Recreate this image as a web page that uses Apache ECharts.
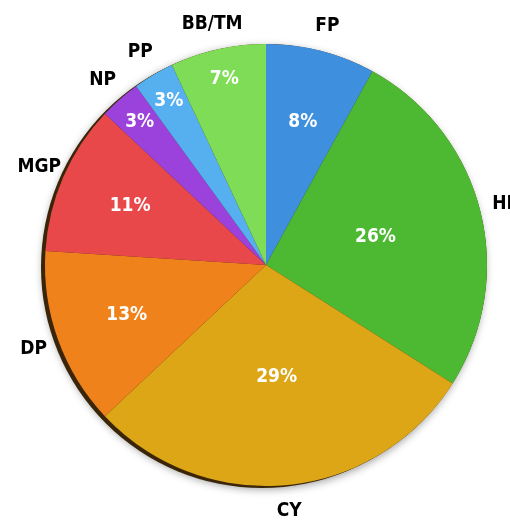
<!DOCTYPE html>
<html>
<head>
<meta charset="utf-8">
<script src="https://cdn.jsdelivr.net/npm/echarts@6/dist/echarts.min.js"></script>
<style>
html,body{margin:0;padding:0;background:#fff;}
#chart{width:510px;height:520px;}
</style>
</head>
<body>
<div id="chart"></div>
<script>
var categories = ['FP', 'HE', 'CY', 'DP', 'MGP', 'NP', 'PP', 'BB/TM'];
var values = [8, 26, 29, 13, 11, 3, 3, 7];
var colors = ['#3f8fdf', '#4db832', '#dca616', '#f0821c', '#e8484a', '#9b42dc', '#56b0f0', '#7fdc56'];
var topColors = ['#4a9bea', '#56c23a', '#e6ae1c', '#f58a22', '#f55252', '#a54ee6', '#62bcf8', '#8ae662'];

var FONT = '"Liberation Sans Narrow", "DejaVu Sans Condensed", sans-serif';
var center = ['266px', '265px'];
var R = 221;

function ringFor(v) { return v >= 20 ? 0 : (v >= 8 ? 1 : 2); }
var rings = [[0, 220], [70, 220], [156, 220]];

var mainData = categories.map(function (c, i) {
  return {
    name: c, value: values[i],
    itemStyle: {
      color: new echarts.graphic.LinearGradient(0, 0, 0, 1, [
        { offset: 0, color: topColors[i] },
        { offset: 1, color: colors[i] }
      ], true)
    }
  };
});

function ghostData(showFn) {
  return categories.map(function (c, i) {
    return { name: c, value: values[i], label: { show: showFn(i) } };
  });
}

var series = [
  {
    type: 'pie',
    center: center,
    radius: [0, R],
    silent: true,
    data: [{ name: 'disk', value: 1 }],
    label: { show: false },
    labelLine: { show: false },
    itemStyle: {
      color: '#4a300c',
      shadowBlur: 8,
      shadowOffsetX: -2,
      shadowOffsetY: 3,
      shadowColor: 'rgba(0,0,0,0.4)'
    },
    z: 1
  },
  {
    type: 'pie',
    center: ['262px', '267px'],
    radius: [0, R],
    silent: true,
    data: [{ name: 'rim', value: 1 }],
    label: { show: false },
    labelLine: { show: false },
    itemStyle: { color: '#3a2508' },
    z: 1
  },
  {
    type: 'pie',
    center: center,
    radius: [0, R],
    startAngle: 90,
    clockwise: true,
    silent: true,
    data: mainData,
    label: { show: false },
    labelLine: { show: false },
    itemStyle: { borderWidth: 0 },
    z: 2
  }
];

rings.forEach(function (rg, k) {
  series.push({
    type: 'pie',
    center: center,
    radius: rg,
    startAngle: 90,
    clockwise: true,
    silent: true,
    z: 3,
    avoidLabelOverlap: false,
    labelLayout: { hideOverlap: false },
    data: ghostData(function (i) { return ringFor(values[i]) === k; }),
    itemStyle: { color: 'rgba(0,0,0,0)' },
    labelLine: { show: false },
    label: {
      position: 'inside',
      rotate: 0,
      formatter: '{c}%',
      color: '#ffffff',
      fontFamily: FONT,
      fontWeight: 'bold',
      fontSize: 19
    }
  });
});

series.push({
  type: 'pie',
  center: center,
  radius: [218, 270],
  startAngle: 90,
  clockwise: true,
  silent: true,
  z: 3,
  avoidLabelOverlap: false,
  labelLayout: { hideOverlap: false },
  data: ghostData(function () { return true; }),
  itemStyle: { color: 'rgba(0,0,0,0)' },
  labelLine: { show: false },
  label: {
    position: 'inside',
    rotate: 0,
    formatter: '{b}',
    color: '#000000',
    fontFamily: FONT,
    fontWeight: 'bold',
    fontSize: 19
  }
});

var chart = echarts.init(document.getElementById('chart'));
chart.setOption({ animation: false, series: series });
</script>
</body>
</html>
